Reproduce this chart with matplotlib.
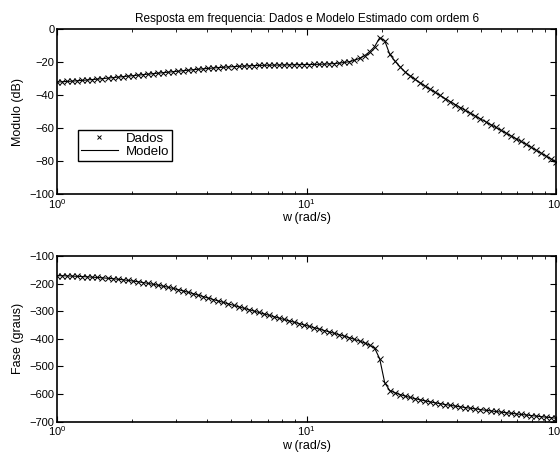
import numpy as np
import matplotlib
matplotlib.use('Agg')
import matplotlib.pyplot as plt

# frequencias (rad/s)
w = [1.000, 1.0476, 1.0975, 1.1498, 1.2045, 1.2619, 1.3219, 1.3849, 1.4508, 1.5199,
     1.5923, 1.6681, 1.7475, 1.8307, 1.9179, 2.0092, 2.1049, 2.2051, 2.3101, 2.4201,
     2.5354, 2.6561, 2.7826, 2.9151, 3.0539, 3.1993, 3.3516, 3.5112, 3.6784, 3.8535,
     4.0370, 4.2292, 4.4306, 4.6416, 4.8626, 5.0941, 5.3367, 5.5908, 5.8570, 6.1359,
     6.4281, 6.7342, 7.0548, 7.3907, 7.7426, 8.1113, 8.4975, 8.9022, 9.3260, 9.7701,
     10.235, 10.723, 11.233, 11.768, 12.328, 12.915, 13.530, 14.175, 14.850, 15.557,
     16.298, 17.074, 17.886, 18.738, 19.630, 20.565, 21.544, 22.570, 23.645, 24.771,
     25.950, 27.186, 28.480, 29.836, 31.257, 32.745, 34.305, 35.938, 37.649, 39.442,
     41.320, 43.288, 45.349, 47.508, 49.770, 52.140, 54.623, 57.224, 59.948, 62.803,
     65.793, 68.926, 72.208, 75.646, 79.248, 83.022, 86.975, 91.116, 95.455, 100.0]

# modulo dos dados (dB)
mag_dados = [-32.0, -31.8, -31.6, -31.4, -31.2, -30.95, -30.7, -30.45, -30.2, -29.9,
             -29.6, -29.3, -29.0, -28.7, -28.4, -28.1, -27.8, -27.5, -27.2, -26.9,
             -26.6, -26.3, -26.0, -25.7, -25.4, -25.1, -24.8, -24.5, -24.2, -23.95,
             -23.7, -23.45, -23.2, -23.0, -22.8, -22.6, -22.45, -22.3, -22.15, -22.0,
             -21.9, -21.8, -21.75, -21.7, -21.65, -21.6, -21.55, -21.5, -21.45, -21.4,
             -21.35, -21.3, -21.2, -21.1, -20.95, -20.75, -20.5, -20.1, -19.6, -18.8,
             -17.6, -16.0, -13.6, -10.5, -5.1, -6.9, -15.2, -19.2, -22.6, -25.7,
             -28.1, -30.3, -32.4, -34.4, -36.3, -38.2, -40.1, -42.0, -43.8, -45.6,
             -47.4, -49.2, -50.9, -52.6, -54.3, -56.0, -57.7, -59.4, -61.1, -62.8,
             -64.5, -66.2, -67.9, -69.6, -71.4, -73.2, -75.0, -76.8, -78.6, -80.4]

# fase dos dados (graus)
fase_dados = [-171.0, -171.5, -172.1, -172.8, -173.6, -174.5, -175.5, -176.6, -177.8, -179.1,
              -180.6, -182.2, -184.0, -186.0, -188.2, -190.6, -193.2, -196.0, -199.0, -202.2,
              -205.6, -209.2, -213.0, -217.3, -221.8, -226.5, -231.4, -236.5, -241.8, -247.1,
              -252.4, -257.7, -263.0, -268.2, -273.4, -278.6, -283.8, -289.0, -294.1, -299.2,
              -304.3, -309.4, -314.5, -319.6, -324.7, -329.7, -334.7, -339.7, -344.7, -349.7,
              -354.7, -359.7, -364.7, -369.8, -374.9, -380.0, -385.2, -390.5, -396.0, -401.8,
              -408.0, -414.8, -422.7, -433.5, -472.0, -559.0, -587.0, -595.0, -601.5, -607.0,
              -612.0, -616.5, -620.7, -624.6, -628.2, -631.6, -634.8, -637.8, -640.7, -643.5,
              -646.2, -648.8, -651.3, -653.7, -656.1, -658.4, -660.7, -662.9, -665.1, -667.3,
              -669.4, -671.5, -673.6, -675.6, -677.6, -679.6, -681.6, -683.5, -685.4, -687.3]

# modelo estimado (coincide com os dados nesta escala)
mag_modelo = mag_dados
fase_modelo = fase_dados

plt.rcParams['font.family'] = ['Liberation Sans', 'DejaVu Sans']
plt.rcParams['font.size'] = 8
plt.rcParams['xtick.direction'] = 'in'
plt.rcParams['ytick.direction'] = 'in'
plt.rcParams['xtick.top'] = True
plt.rcParams['ytick.right'] = True

fig = plt.figure(figsize=(5.6, 4.62), dpi=100)
ax1 = fig.add_axes([0.102, 0.5794, 0.891, 0.3572])
ax2 = fig.add_axes([0.102, 0.0872, 0.891, 0.3587])

ax1.plot(w, mag_dados, 'x', color='k', markersize=4, markeredgewidth=0.7, label='Dados')
ax1.plot(w, mag_modelo, '-', color='k', linewidth=0.8, label='Modelo')
ax2.plot(w, fase_dados, 'x', color='k', markersize=4, markeredgewidth=0.7)
ax2.plot(w, fase_modelo, '-', color='k', linewidth=0.8)

for ax in (ax1, ax2):
    ax.set_xscale('log')
    ax.set_xlim(1, 100)
    ax.set_xlabel('w (rad/s)', fontsize=9, labelpad=1)
    for s in ax.spines.values():
        s.set_linewidth(1.2)
    ax.tick_params(which='major', length=4, width=0.8, labelsize=8, pad=2)
    ax.tick_params(which='minor', length=2, width=0.6)

ax1.set_ylim(-100, 0)
ax1.set_yticks(np.arange(-100, 1, 20))
ax1.set_ylabel('Modulo (dB)', fontsize=9)
ax1.set_title('Resposta em frequencia: Dados e Modelo Estimado com ordem 6', fontsize=8.5, pad=5)

ax2.set_ylim(-700, -100)
ax2.set_yticks(np.arange(-700, -99, 100))
ax2.set_ylabel('Fase (graus)', fontsize=9)

leg = ax1.legend(loc='lower left', bbox_to_anchor=(0.041, 0.2), borderaxespad=0,
                 fontsize=9.5, fancybox=False, framealpha=1, edgecolor='k',
                 handlelength=2.8, labelspacing=0.05, borderpad=0.25, handletextpad=0.6,
                 markerscale=0.8)
leg.get_frame().set_linewidth(1.0)

fig.savefig('out.png', dpi=100)
